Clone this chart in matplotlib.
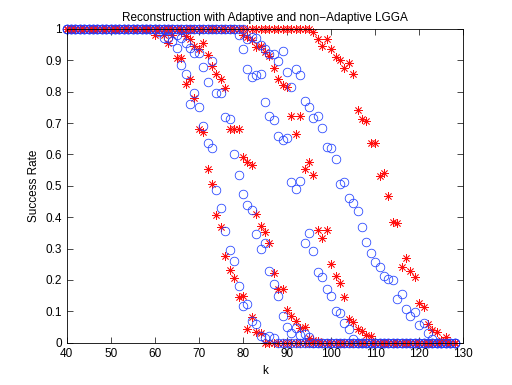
import numpy as np
import matplotlib.pyplot as plt

# k grid (one point per integer k)
k = np.arange(40, 129)

# adaptive LGGA (blue circles), four measurement settings
blue_1 = [1, 1, 1, 1, 1, 1, 1, 1, 1, 1,
          1, 1, 1, 1, 1, 1, 1, 1, 1, 1,
          1, .99, .97, .97, .96, .94, .886, .857, .762, .797,
          .751, .69, .637, .62, .486, .43, .355, .296, .26, .179,
          .118, .123, .068, .058, .02, .016, .02, .016, 0, 0,
          0, 0, 0, 0, 0, 0, 0, 0, 0, 0,
          0, 0, 0, 0, 0, 0, 0, 0, 0, 0,
          0, 0, 0, 0, 0, 0, 0, 0, 0, 0,
          0, 0, 0, 0, 0, 0, 0, 0, 0]
blue_2 = [1, 1, 1, 1, 1, 1, 1, 1, 1, 1,
          1, 1, 1, 1, 1, 1, 1, 1, 1, 1,
          1, 1, 1, 1, 1, .98, .97, .956, .94, .924,
          .924, .877, .83, .897, .797, .797, .72, .713, .601, .535,
          .474, .439, .424, .346, .3, .317, .229, .186, .149, .085,
          .05, .03, .048, .023, .027, .019, 0, 0, 0, 0,
          0, 0, 0, 0, 0, 0, 0, 0, 0, 0,
          0, 0, 0, 0, 0, 0, 0, 0, 0, 0,
          0, 0, 0, 0, 0, 0, 0, 0, 0]
blue_3 = [1, 1, 1, 1, 1, 1, 1, 1, 1, 1,
          1, 1, 1, 1, 1, 1, 1, 1, 1, 1,
          1, 1, 1, 1, 1, 1, 1, 1, 1, 1,
          1, 1, 1, 1, 1, 1, 1, 1, 1, .98,
          .935, .871, .847, .852, .857, .767, .721, .71, .66, .647,
          .651, .511, .49, .515, .319, .349, .293, .224, .21, .172,
          .149, .101, .096, .062, .042, .013, 0, 0, 0, 0,
          0, 0, 0, 0, 0, 0, 0, 0, 0, 0,
          0, 0, 0, 0, 0, 0, 0, 0, 0]
blue_4 = [1, 1, 1, 1, 1, 1, 1, 1, 1, 1,
          1, 1, 1, 1, 1, 1, 1, 1, 1, 1,
          1, 1, 1, 1, 1, 1, 1, 1, 1, 1,
          1, 1, 1, 1, 1, 1, 1, 1, 1, 1,
          1, .969, .974, .972, .948, .935, .919, .919, .897, .93,
          .861, .816, .871, .852, .77, .75, .716, .721, .684, .623,
          .62, .586, .506, .513, .46, .445, .42, .37, .322, .285,
          .258, .242, .211, .203, .2, .139, .155, .106, .085, .099,
          .055, .064, .03, .012, 0, 0, 0, 0, 0]

# non-adaptive LGGA (red stars)
red_1 = [1, 1, 1, 1, 1, 1, 1, 1, 1, 1,
         1, 1, 1, 1, 1, 1, 1, 1, 1, 1,
         .98, 1, .98, .956, .98, .907, .907, .825, .841, .78,
         .68, .672, .552, .506, .406, .37, .275, .23, .206, .145,
         .15, .044, .081, .035, .03, 0, 0, 0, 0, 0,
         0, 0, 0, 0, 0, 0, 0, 0, 0, 0,
         0, 0, 0, 0, 0, 0, 0, 0, 0, 0,
         0, 0, 0, 0, 0, 0, 0, 0, 0, 0,
         0, 0, 0, 0, 0, 0, 0, 0, 0]
red_2 = [1, 1, 1, 1, 1, 1, 1, 1, 1, 1,
         1, 1, 1, 1, 1, 1, 1, 1, 1, 1,
         1, 1, 1, 1, 1, 1, .99, .978, .967, .946,
         .935, .956, .916, .882, .857, .841, .812, .68, .68, .68,
         .591, .577, .565, .41, .373, .353, .319, .222, .17, .17,
         .104, .085, .069, .048, .051, .015, .01, .005, 0, 0,
         0, 0, 0, 0, 0, 0, 0, 0, 0, 0,
         0, 0, 0, 0, 0, 0, 0, 0, 0, 0,
         0, 0, 0, 0, 0, 0, 0, 0, 0]
red_3 = [1, 1, 1, 1, 1, 1, 1, 1, 1, 1,
         1, 1, 1, 1, 1, 1, 1, 1, 1, 1,
         1, 1, 1, 1, 1, 1, 1, 1, 1, 1,
         1, 1, 1, 1, 1, 1, 1, 1, 1, 1,
         .98, .975, .964, .942, .946, .926, .914, .876, .841, .822,
         .816, .721, .665, .721, .552, .577, .535, .36, .335, .36,
         .25, .211, .19, .144, .074, .066, .045, .037, .023, .021,
         0, 0, 0, 0, 0, 0, 0, 0, 0, 0,
         0, 0, 0, 0, 0, 0, 0, 0, 0]
red_4 = [1, 1, 1, 1, 1, 1, 1, 1, 1, 1,
         1, 1, 1, 1, 1, 1, 1, 1, 1, 1,
         1, 1, 1, 1, 1, 1, 1, 1, 1, 1,
         1, 1, 1, 1, 1, 1, 1, 1, 1, 1,
         1, 1, 1, 1, 1, 1, 1, 1, 1, 1,
         1, 1, 1, 1, 1, 1, .99, .967, .946, .967,
         .935, .91, .9, .875, .891, .855, .74, .713, .705, .636,
         .636, .53, .541, .466, .385, .38, .24, .269, .229, .21,
         .126, .113, .06, .04, .035, .01, .017, 0, 0]

plt.rcParams['font.family'] = ['Liberation Sans', 'DejaVu Sans']

fig = plt.figure(figsize=(5.12, 3.85), dpi=100)
ax = fig.add_axes([0.13, 0.11, 0.775, 0.815])

star = (8, 2, 0)  # MATLAB-style asterisk (+ and x)
for b, r in [(blue_1, red_1), (blue_2, red_2), (blue_3, red_3), (blue_4, red_4)]:
    ax.plot(k, r, linestyle='none', marker=star, color='#ff1010', ms=6, mew=0.55, clip_on=False)
    ax.plot(k, b, linestyle='none', marker='o', mfc='none', mec='#1f3fff', ms=6.2, mew=0.55, clip_on=False)

ax.set_xlim(40, 130)
ax.set_ylim(0, 1)
ax.set_xticks(np.arange(40, 131, 10))
ax.set_yticks(np.arange(0, 1.01, 0.1))
ax.set_yticklabels(['0', '0.1', '0.2', '0.3', '0.4', '0.5', '0.6', '0.7', '0.8', '0.9', '1'])
ax.tick_params(direction='in', top=True, right=True, length=4, width=0.5, labelsize=8.5)
for s in ax.spines.values():
    s.set_linewidth(0.6)

ax.set_title('Reconstruction with Adaptive and non\u2212Adaptive LGGA', fontsize=8.5)
ax.set_xlabel('k', fontsize=8.5)
ax.set_ylabel('Success Rate', fontsize=8.5)

fig.savefig('out.png', dpi=100, facecolor='white')
